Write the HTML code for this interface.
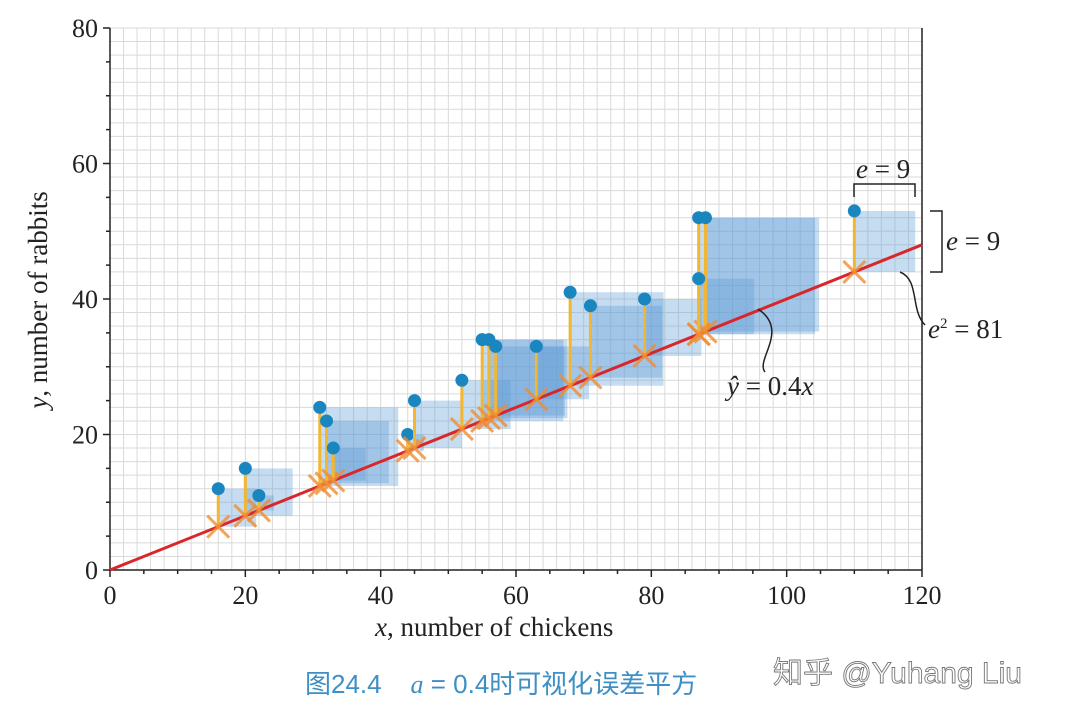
<!DOCTYPE html>
<html><head><meta charset="utf-8"><style>
body{margin:0;background:#fff;width:1066px;height:720px;overflow:hidden}
svg text{font-family:"Liberation Serif",serif}
</style></head><body>
<svg id="chart" width="1066" height="720" xmlns="http://www.w3.org/2000/svg"></svg>
<script>
const xs=[16,20,22,31,32,33,44,45,52,55,56,57,63,68,71,79,87,88,87,110];
const ys=[12,15,11,24,22,18,20,25,28,34,34,33,33,41,39,40,52,52,43,53];
const slope=[0.4];
const xTicks=[0,20,40,60,80,100,120];
const yTicks=[0,20,40,60,80];
const NS='http://www.w3.org/2000/svg';
const svg=document.getElementById('chart');
const X=v=>110+v*(922-110)/120;
const Y=v=>570-v*(570-28)/80;
function el(t,a,p){const e=document.createElementNS(NS,t);for(const k in a)e.setAttribute(k,a[k]);(p||svg).appendChild(e);return e;}
const grid=el('g',{});


for(let v=0;v<=120;v+=2)el('line',{x1:X(v),x2:X(v),y1:Y(0),y2:Y(80),stroke:'#dadada','stroke-width':1},grid);
for(let v=0;v<=80;v+=2)el('line',{x1:X(0),x2:X(120),y1:Y(v),y2:Y(v),stroke:'#dadada','stroke-width':1},grid);
const ax=el('g',{stroke:'#222','stroke-width':1.5});


el('line',{x1:X(0),x2:X(0),y1:Y(0),y2:Y(80)},ax);
el('line',{x1:X(120),x2:X(120),y1:Y(0),y2:Y(80)},ax);
el('line',{x1:X(0),x2:X(120),y1:Y(0),y2:Y(0)},ax);
for(let v=0;v<=120;v+=5)el('line',{x1:X(v),x2:X(v),y1:Y(0),y2:Y(0)+(v%20?4:7)},ax);
for(let v=0;v<=80;v+=5)el('line',{x1:X(0),x2:X(0)-(v%20?4:7),y1:Y(v),y2:Y(v)},ax);
xTicks.forEach(v=>{const t=el('text',{x:X(v),y:604,'text-anchor':'middle','font-size':26,fill:'#222'});t.textContent=v;

});
yTicks.forEach(v=>{const t=el('text',{x:98,y:Y(v)+9,'text-anchor':'end','font-size':26,fill:'#222'});t.textContent=v;

});
const a=slope[0];
xs.forEach((x,i)=>{const yh=a*x,e=ys[i]-yh;
const r=el('rect',{x:X(x),y:Y(ys[i]),width:X(x+e)-X(x),height:Y(yh)-Y(ys[i]),fill:'rgba(91,155,213,0.35)'});

});
const ln=el('line',{x1:X(0),y1:Y(0),x2:X(120),y2:Y(120*a),stroke:'#d9262a','stroke-width':3});


xs.forEach((x,i)=>{const yh=a*x;
const l=el('line',{x1:X(x),x2:X(x),y1:Y(yh),y2:Y(ys[i]),stroke:'#f2b632','stroke-width':3});


const g=el('g',{stroke:'rgba(240,140,50,0.8)','stroke-width':3});


const cx=X(x),cy=Y(yh),s=11;
el('line',{x1:cx-s,y1:cy-s,x2:cx+s,y2:cy+s},g);el('line',{x1:cx-s,y1:cy+s,x2:cx+s,y2:cy-s},g);
const c=el('circle',{cx:X(x),cy:Y(ys[i]),r:6.5,fill:'#1a86bf'});

});
const an=el('g',{fill:'none',stroke:'#222','stroke-width':1.5});


el('path',{d:'M854 197 V184 H915 V197'},an);
el('path',{d:'M930 211 H942 V272 H930'},an);
el('path',{d:'M758 309 C 790 330,755 360,765 372'},an);
el('path',{d:'M900 272 C 920 280,910 310,925 325'},an);
function tx(s,x,y,name){const t=el('text',{x:x,y:y,'font-size':27,fill:'#222'});t.innerHTML=s;

return t;}
tx('<tspan font-style="italic">e</tspan> = 9',856,178,'e-horizontal-label');
tx('<tspan font-style="italic">e</tspan> = 9',946,250,'e-vertical-label');
tx('<tspan font-style="italic">e</tspan><tspan font-size="15" dy="-10">2</tspan><tspan dy="10"> = 81</tspan>',928,338,'e-squared-label');
tx('<tspan font-style="italic">ŷ</tspan> = 0.4<tspan font-style="italic">x</tspan>',727,395,'line-equation-label');
tx('<tspan font-style="italic">x</tspan>, number of chickens',375,636,'x-axis-title');
const yt=el('text',{x:0,y:0,'font-size':27,fill:'#222',transform:'translate(47,300) rotate(-90)','text-anchor':'middle'});
yt.innerHTML='<tspan font-style="italic">y</tspan>, number of rabbits';


const cap=el('text',{x:305,y:693,'font-size':26,fill:'#3d8fc4'});
cap.setAttribute('style','font-family:"Liberation Sans","Noto Sans CJK SC",sans-serif');
cap.innerHTML='图24.4&#160;&#160;&#160;&#160;<tspan font-style="italic" font-family="Liberation Serif">a</tspan> = 0.4时可视化误差平方';


const wm=el('text',{x:773,y:683,'font-size':30,fill:'#fff',stroke:'#777','stroke-width':0.9});
wm.setAttribute('style','font-family:"Liberation Sans","Noto Sans CJK SC",sans-serif');
wm.textContent='知乎 @Yuhang Liu';


</script>
</body></html>
